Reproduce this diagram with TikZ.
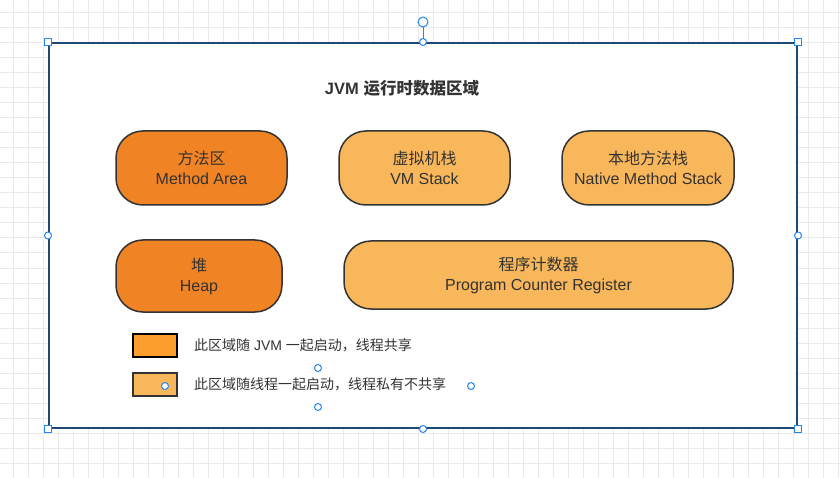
\documentclass[tikz,border=0pt]{standalone}
\usepackage{fontspec}
\setmainfont{Liberation Sans}
\newfontfamily\cjk{Noto Sans CJK SC}
\usetikzlibrary{positioning}
\definecolor{JVMDark}{RGB}{240,131,35}
\definecolor{JVMLight}{RGB}{249,183,91}
\definecolor{JVMKey}{RGB}{252,158,45}
\definecolor{JVMText}{RGB}{51,51,51}
\definecolor{GridGray}{RGB}{234,234,234}
\definecolor{FrameBlue}{RGB}{28,72,118}
\definecolor{HandleBlue}{RGB}{38,132,240}

\begin{document}
\begin{tikzpicture}[x=1pt,y=-1pt,
area/.style={rectangle,rounded corners=27pt,draw=JVMText,line width=1.5pt,align=center,text=JVMText,font=\fontsize{16}{20}\selectfont,inner sep=0pt},
sharedarea/.style={area,fill=JVMDark},
privatearea/.style={area,fill=JVMLight},
key/.style={rectangle,line width=2pt,minimum width=44pt,minimum height=23pt,inner sep=0pt},
keytext/.style={anchor=west,inner sep=0pt,text=JVMText,font=\fontsize{14}{16}\selectfont},
handle/.style={draw=HandleBlue,fill=white,line width=1pt}]
\useasboundingbox (0,0) rectangle (840,478);
% editor grid
\fill[white] (0,0) rectangle (840,478);
\foreach \g in {13,28,...,838}{\draw[GridGray,line width=1pt] (\g,0)--(\g,478);}
\foreach \g in {13,28,...,463}{\draw[GridGray,line width=1pt] (0,\g)--(840,\g);}
% container
\node[draw=FrameBlue,fill=white,line width=2pt,minimum width=748pt,minimum height=385pt,inner sep=0pt] (frame) at (423,235.5) {};
\node[font=\bfseries\fontsize{16.5}{20}\selectfont,text=JVMText] (title) at (402,88) {JVM {\cjk 运行时数据区域}};
% regions
\node[sharedarea,minimum width=171pt,minimum height=74pt] (method) at (201.5,168) {{\cjk 方法区}\\Method Area};
\node[privatearea,minimum width=171pt,minimum height=74pt] (vmstack) at (424.5,168) {{\cjk 虚拟机栈}\\VM Stack};
\node[privatearea,minimum width=172pt,minimum height=74pt] (native) at (648,168) {{\cjk 本地方法栈}\\Native Method Stack};
\node[sharedarea,minimum width=166pt,minimum height=72pt] (heap) at (199,276) {{\cjk 堆}\\Heap};
\node[privatearea,minimum width=389pt,minimum height=68pt] (pcr) at (538.5,275) {{\cjk 程序计数器}\\Program Counter Register};
% legend
\node[key,draw=black,fill=JVMKey] (key1) at (155,345.5) {};
\node[key,draw=JVMText,fill=JVMLight] (key2) at (155,384.5) {};
\node[keytext,right=16pt of key1] (note1) {{\cjk 此区域随} JVM {\cjk 一起启动，线程共享}};
\node[keytext,right=16pt of key2] (note2) {{\cjk 此区域随线程一起启动，线程私有不共享}};
% selection handles
\coordinate (rot) at (423,22);
\draw[HandleBlue,line width=1pt] (frame.north)--([yshift=-5pt]rot);
\draw[handle] (rot) circle (5pt);
\foreach \c in {north west,north east,south west,south east}{\draw[handle] ([shift={(-3.5,-3.5)}]frame.\c) rectangle ++(7,7);}
\foreach \c in {north,south,west,east}{\draw[handle] (frame.\c) circle (3.5pt);}
\foreach \p in {(318,368),(318,407),(165,386),(471,386)}{\draw[handle] \p circle (3.5pt);}
\end{tikzpicture}
\end{document}
